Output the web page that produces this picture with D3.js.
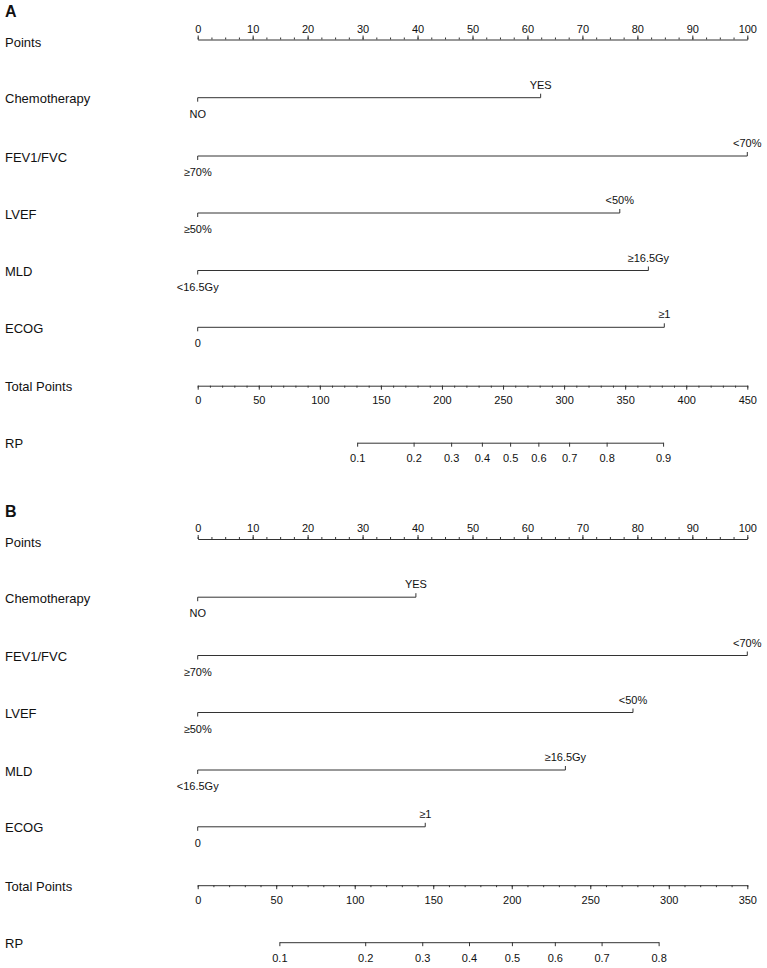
<!DOCTYPE html>
<html>
<head>
<meta charset="utf-8">
<script src="https://cdn.jsdelivr.net/npm/d3@7"></script>
<style>
  body { margin: 0; background: #fff; }
  text { font-family: "Liberation Sans", Arial, sans-serif; fill: #111; }
  .axis path, .axis line, .row line { stroke: #333; stroke-width: 1; }
  .axis text { font-size: 11px; fill: #111; }
</style>
</head>
<body>
<div id="chart"></div>
<script>
// nomogram data
const panelNames = ["A", "B"];
const variables = ["Chemotherapy", "FEV1/FVC", "LVEF", "MLD", "ECOG"];
const lowLabels = ["NO", "≥70%", "≥50%", "<16.5Gy", "0"];
const highLabels = ["YES", "<70%", "<50%", "≥16.5Gy", "≥1"];
const pointsA = [62.4, 100, 76.8, 82.0, 84.9];
const pointsB = [39.7, 100, 79.2, 66.9, 41.4];
const pointTicks = [0, 10, 20, 30, 40, 50, 60, 70, 80, 90, 100];
const totalTicksA = [0, 50, 100, 150, 200, 250, 300, 350, 400, 450];
const totalTicksB = [0, 50, 100, 150, 200, 250, 300, 350];
const rpTicksA = [0.1, 0.2, 0.3, 0.4, 0.5, 0.6, 0.7, 0.8, 0.9];
const rpTicksB = [0.1, 0.2, 0.3, 0.4, 0.5, 0.6, 0.7, 0.8];
// total points at RP = 0.5 and total points per logit unit
const rpMid = [255.8, 200.1];
const rpSlope = [57.0, 67.4];

let svgWidth = 767;
let svgHeight = 968;
let x0 = 197.7, x1 = 747.3;

let svg = d3.select("#chart")
    .append("svg")
    .attr("width", svgWidth)
    .attr("height", svgHeight);

const logit = p => Math.log(p / (1 - p));

function drawPanel(i, offsetY) {
    let pts = i === 0 ? pointsA : pointsB;
    let totalTicks = i === 0 ? totalTicksA : totalTicksB;
    let rpTicks = i === 0 ? rpTicksA : rpTicksB;
    let totalMax = totalTicks[totalTicks.length - 1];

    let g = svg.append("g").attr("transform", `translate(0,${offsetY})`);

    // panel letter
    g.append("text")
        .attr("x", 5).attr("y", 17)
        .style("font-size", "16px")
        .style("font-weight", "bold")
        .text(panelNames[i]);

    let xPoints = d3.scaleLinear().domain([0, 100]).range([x0, x1]);
    let xTotal = d3.scaleLinear().domain([0, totalMax]).range([x0, x1]);

    // row positions
    let yPointsAxis = 39.5;
    let yRows = [97.7, 156, 213, 270.5, 327.3];
    let yTotal = 385.7;
    let yRP = 442.7;

    // left labels
    let labels = [["Points", yPointsAxis + 3]]
        .concat(variables.map((v, k) => [v, yRows[k] + 1]))
        .concat([["Total Points", yTotal + 1], ["RP", yRP + 1]]);
    g.selectAll(".varlabel")
        .data(labels)
        .enter()
        .append("text")
        .attr("class", "varlabel")
        .attr("x", 5)
        .attr("y", d => d[1])
        .attr("dy", "0.35em")
        .style("font-size", "13px")
        .text(d => d[0]);

    // Points axis (ticks up, labels above)
    g.append("g")
        .attr("class", "axis")
        .attr("transform", `translate(0,${yPointsAxis})`)
        .call(d3.axisTop(xPoints).tickValues(d3.range(0, 100.1, 2.5)).tickSize(2).tickSizeOuter(0).tickFormat(""));
    g.append("g")
        .attr("class", "axis")
        .attr("transform", `translate(0,${yPointsAxis})`)
        .call(d3.axisTop(xPoints).tickValues(pointTicks).tickSize(4).tickSizeOuter(0).tickPadding(3))
        .call(a => a.select(".domain").remove())
        .call(a => a.selectAll("text").attr("dy", "0em"));

    // variable rows
    variables.forEach((v, k) => {
        let row = g.append("g").attr("class", "row")
            .attr("transform", `translate(0,${yRows[k]})`);
        row.append("line")
            .attr("x1", xPoints(0)).attr("x2", xPoints(pts[k]))
            .attr("y1", 0).attr("y2", 0);
        row.append("line")
            .attr("x1", xPoints(0)).attr("x2", xPoints(0))
            .attr("y1", 0).attr("y2", 4);
        row.append("line")
            .attr("x1", xPoints(pts[k])).attr("x2", xPoints(pts[k]))
            .attr("y1", 0).attr("y2", -4);
        row.append("text")
            .attr("x", xPoints(0)).attr("y", 20)
            .attr("text-anchor", "middle")
            .style("font-size", "11px")
            .text(lowLabels[k]);
        row.append("text")
            .attr("x", xPoints(pts[k])).attr("y", -9)
            .attr("text-anchor", "middle")
            .style("font-size", "11px")
            .text(highLabels[k]);
    });

    // Total Points axis (ticks down, labels below)
    g.append("g")
        .attr("class", "axis")
        .attr("transform", `translate(0,${yTotal})`)
        .call(d3.axisBottom(xTotal).tickValues(d3.range(0, totalMax + 0.1, 10)).tickSize(2).tickSizeOuter(0).tickFormat(""));
    g.append("g")
        .attr("class", "axis")
        .attr("transform", `translate(0,${yTotal})`)
        .call(d3.axisBottom(xTotal).tickValues(totalTicks).tickSize(4).tickSizeOuter(0).tickPadding(7))
        .call(a => a.select(".domain").remove());

    // RP axis on logit scale, placed through total points
    let lo = logit(rpTicks[0]), hi = logit(rpTicks[rpTicks.length - 1]);
    let xRP = d3.scaleLinear()
        .domain([lo, hi])
        .range([xTotal(rpMid[i] + rpSlope[i] * lo), xTotal(rpMid[i] + rpSlope[i] * hi)]);
    g.append("g")
        .attr("class", "axis")
        .attr("transform", `translate(0,${yRP})`)
        .call(d3.axisBottom(xRP)
            .tickValues(rpTicks.map(logit))
            .tickFormat((d, j) => rpTicks[j])
            .tickSize(4).tickSizeOuter(0).tickPadding(8));
}

drawPanel(0, 0);
drawPanel(1, 499.5);
</script>
</body>
</html>
